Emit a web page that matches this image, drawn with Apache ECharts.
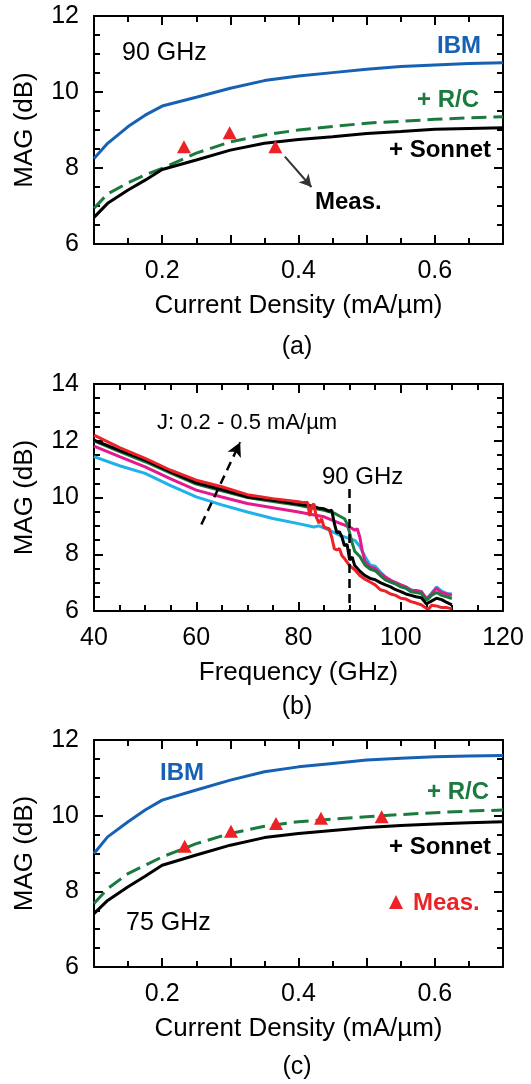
<!DOCTYPE html>
<html><head><meta charset="utf-8">
<script src="https://cdn.jsdelivr.net/npm/echarts@6/dist/echarts.min.js"></script>
<style>html,body{margin:0;padding:0;background:#fff}.p{width:531px;display:block}#pa{height:361px}#pb{height:361px}#pc{height:362px}#err{position:absolute;left:0;top:0;font:11px monospace;color:#c00;white-space:pre-wrap;width:531px}</style>
</head><body><div class="p" id="pa"></div><div class="p" id="pb"></div><div class="p" id="pc"></div><div id="err"></div>
<script>
window.onerror = function(m, s, l, c, e){ document.getElementById('err').textContent += 'ERR: ' + m + ' @' + l + ':' + c + '\n'; };
// ---- Panel (a): 90 GHz vs current density ----
const jA = [0.1,0.12,0.15,0.175,0.2,0.25,0.3,0.35,0.4,0.45,0.5,0.55,0.6,0.65,0.7];
const ibmA    = [8.25,8.65,9.09,9.39,9.63,9.86,10.10,10.30,10.42,10.51,10.60,10.67,10.71,10.75,10.77];
const rcA     = [6.94,7.32,7.61,7.82,7.99,8.39,8.69,8.87,9.00,9.09,9.18,9.23,9.28,9.32,9.35];
const sonnetA = [6.70,7.07,7.42,7.68,7.96,8.21,8.47,8.65,8.75,8.82,8.91,8.96,9.02,9.04,9.06];
const measJA = [0.232,0.299,0.366];
const measA  = [8.56,8.93,8.56];

// ---- Panel (b): MAG vs frequency, J = 0.2 - 0.5 mA/um ----
const fCyan = [40,45,50,55,60,65,70,75,80,83,84,86,88,90,91,92,93,94,95,96,97,98,99,100,101,102,103,104,105,106,107,108,109,110];
const mCyan = [11.44,11.12,10.85,10.42,10.02,9.74,9.49,9.26,9.08,8.96,9.0,8.85,8.67,8.55,8.49,8.28,7.92,7.62,7.58,7.38,7.2,7.08,7.0,6.92,6.85,6.75,6.7,6.7,6.42,6.62,6.85,6.7,6.62,6.6];
const fMag = [40,45,50,55,60,65,70,75,80,85,88,90,91,91.5,92,92.5,93,94,95,96,97,98,99,100,101,102,103,104,105,105.5,106,107,108,109,110];
const mMag = [11.81,11.44,11.08,10.66,10.26,10.02,9.79,9.64,9.49,9.32,9.1,8.96,8.85,8.9,8.6,8.1,7.75,7.55,7.5,7.32,7.2,7.08,7.0,6.92,6.85,6.73,6.72,6.68,6.45,6.5,6.6,6.8,6.65,6.6,6.55];
const fGreen = [40,45,50,55,60,65,70,75,80,85,87,88,89,89.5,90,90.5,91,92,93,94,95,96,97,98,99,100,101,102,103,104,105,105.5,106,107,108,109,110];
const mGreen = [12.0,11.62,11.26,10.86,10.47,10.24,10.0,9.86,9.73,9.55,9.45,9.35,9.25,9.08,8.75,8.4,8.1,7.92,7.62,7.48,7.42,7.25,7.1,7.02,6.95,6.85,6.8,6.68,6.65,6.62,6.38,6.45,6.55,6.65,6.55,6.5,6.44];
const fBlack = [40,45,50,55,60,65,70,75,80,83,84,85,86,86.5,87,87.5,88,88.5,89,89.5,90,90.5,91,92,93,94,95,96,97,98,99,100,101,102,103,104,105,105.5,106,107,108,109,110];
const mBlack = [12.02,11.66,11.32,10.9,10.52,10.28,10.02,9.9,9.76,9.69,9.62,9.6,9.52,9.55,9.1,8.75,8.8,8.6,8.3,8.35,7.8,7.9,7.6,7.4,7.25,7.15,7.1,7.0,6.92,6.85,6.75,6.68,6.6,6.55,6.5,6.47,6.25,6.3,6.35,6.45,6.4,6.3,6.22];
const fRed = [40,45,50,55,60,65,70,75,80,81,81.8,82.2,82.6,83,83.5,84,84.5,85,86,86.5,87,87.5,88,88.5,89,90,91,92,93,94,95,96,97,98,99,100,101,102,103,104,105,105.5,106,107,108,109,110];
const mRed = [12.2,11.76,11.38,10.96,10.61,10.38,10.1,9.96,9.85,9.82,9.82,9.35,9.7,9.78,9.3,9.1,9.25,8.95,8.9,8.6,8.2,8.15,8.2,7.95,7.85,7.6,7.45,7.25,7.12,7.02,6.92,6.75,6.7,6.6,6.55,6.45,6.42,6.33,6.28,6.22,6.1,6.08,6.2,6.18,6.12,6.12,6.08];

// ---- Panel (c): 75 GHz vs current density ----
const jC = [0.1,0.12,0.15,0.175,0.2,0.25,0.3,0.35,0.4,0.45,0.5,0.55,0.6,0.65,0.7];
const ibmC    = [9.0,9.44,9.84,10.15,10.41,10.68,10.94,11.16,11.29,11.38,11.47,11.52,11.56,11.58,11.59];
const rcC     = [7.68,8.07,8.47,8.69,8.91,9.26,9.53,9.72,9.84,9.91,9.97,10.03,10.08,10.12,10.15];
const sonnetC = [7.41,7.76,8.12,8.40,8.69,8.96,9.22,9.42,9.53,9.61,9.69,9.74,9.78,9.81,9.84];
const measJC = [0.233,0.301,0.367,0.433,0.522];
const measC  = [9.19,9.59,9.79,9.93,9.97];

// tick labels
const jTickLabels = ['0.2','0.4','0.6'];

const FONT = '"Liberation Sans", Arial, Helvetica, sans-serif';
const BLUE = '#1761b5', GREEN = '#1b7a3e', RED = '#ec2227';
const zip = (a,b) => a.map((v,i)=>[v,b[i]]);

function axisBase(min, max, interval, split){
  return {type:'value', min, max, interval,
    axisLine:{show:true, onZero:false, lineStyle:{color:'#000', width:2}},
    axisTick:{show:true, inside:true, length:9, lineStyle:{color:'#000', width:2}},
    minorTick:{show:true, splitNumber:split, length:6, lineStyle:{color:'#000', width:2}},
    splitLine:{show:false}};
}
function xAxes(min, max, interval, split, name, fmt){
  const b = axisBase(min, max, interval, split);
  b.position = 'bottom'; b.name = name; b.nameLocation = 'middle'; b.nameGap = 49;
  b.nameTextStyle = {fontSize:26, color:'#000'};
  b.axisLabel = {show:true, margin:15, fontSize:25, color:'#000', formatter:fmt};
  const t = axisBase(min, max, interval, split);
  t.position = 'top'; t.axisLabel = {show:false};
  return [b, t];
}
function yAxes(min, max){
  const l = axisBase(min, max, 2, 4);
  l.position = 'left'; l.name = 'MAG (dB)'; l.nameLocation = 'middle'; l.nameGap = 56;
  l.nameTextStyle = {fontSize:26, color:'#000'};
  l.axisLabel = {show:true, margin:15, fontSize:25, color:'#000'};
  const r = axisBase(min, max, 2, 4);
  r.position = 'right'; r.axisLabel = {show:false};
  return [l, r];
}
const jFmt = v => { const s = (Math.round(v*10)/10).toFixed(1); return jTickLabels.includes(s) ? s : ''; };

function line(data, color, width, dash){
  return {type:'line', data, showSymbol:false,
    lineStyle:{color, width, type: dash || 'solid'}};
}
function tri(data){
  return {type:'scatter', data, symbol:'triangle', symbolSize:[14,13],
    itemStyle:{color:RED, opacity:1}, z:5};
}
function txt(x, y, text, opts){
  return {type:'text', x, y, style:Object.assign({text, fontSize:25, fill:'#000',
    textAlign:'left', textVerticalAlign:'middle'}, opts||{}), z:10};
}

const optA = {
  animation:false, textStyle:{fontFamily:FONT},
  grid:{left:94, right:28, top:16, height:228},
  xAxis: xAxes(0.1, 0.7, 0.1, 2, 'Current Density (mA/µm)', jFmt),
  yAxis: yAxes(6, 12),
  series:[
    line(zip(jA, ibmA), BLUE, 3),
    line(zip(jA, rcA), GREEN, 3, [15,7]),
    Object.assign(line(zip(jA, sonnetA), '#000', 3), {
      markLine:{silent:true, symbol:['none','arrow'], symbolSize:[10,12], label:{show:false},
        lineStyle:{color:'#333', width:2, type:'solid'},
        data:[[{coord:[0.38,8.3]},{coord:[0.419,7.5]}]]}
    }),
    tri(zip(measJA, measA))
  ],
  graphic:[
    txt(122, 53, '90 GHz'),
    txt(481, 46, 'IBM', {fontWeight:'bold', fill:BLUE, textAlign:'right', fontSize:24}),
    txt(479, 100, '+ R/C', {fontWeight:'bold', fill:GREEN, textAlign:'right', fontSize:24}),
    txt(491, 150, '+ Sonnet', {fontWeight:'bold', textAlign:'right', fontSize:24}),
    txt(315, 202, 'Meas.', {fontWeight:'bold', fontSize:24}),
    txt(297, 347, '(a)', {textAlign:'center'})
  ]
};
const optB = {
  animation:false, textStyle:{fontFamily:FONT},
  grid:{left:94, right:28, top:23, height:227},
  xAxis: xAxes(40, 120, 20, 4, 'Frequency (GHz)', null),
  yAxis: yAxes(6, 14),
  series:[
    line(zip(fCyan, mCyan), '#1fb1ea', 3),
    line(zip(fMag, mMag), '#e6198c', 3),
    line(zip(fGreen, mGreen), GREEN, 3),
    line(zip(fBlack, mBlack), '#000', 3),
    Object.assign(line(zip(fRed, mRed), RED, 3), {
      markLine:{silent:true, label:{show:false},
        data:[
          [{coord:[90,10.3], symbol:'none', lineStyle:{color:'#000', width:2.5, type:[9,6]}},{coord:[90,6], symbol:'none'}],
          [{coord:[61,9.05], symbol:'none', lineStyle:{color:'#000', width:2.5, type:[9,6]}},{coord:[68.6,11.95], symbol:'arrow', symbolSize:[11,14]}]
        ]}
    })
  ],
  graphic:[
    txt(157, 62, 'J: 0.2 - 0.5 mA/µm', {fontSize:22}),
    txt(322, 116, '90 GHz', {fontSize:24}),
    txt(297, 346, '(b)', {textAlign:'center'})
  ]
};
if (optB.xAxis[0].axisLabel.formatter === null) delete optB.xAxis[0].axisLabel.formatter;
const optC = {
  animation:false, textStyle:{fontFamily:FONT},
  grid:{left:94, right:28, top:18, height:227},
  xAxis: xAxes(0.1, 0.7, 0.1, 2, 'Current Density (mA/µm)', jFmt),
  yAxis: yAxes(6, 12),
  series:[
    line(zip(jC, ibmC), BLUE, 3),
    line(zip(jC, rcC), GREEN, 3, [15,7]),
    line(zip(jC, sonnetC), '#000', 3),
    tri(zip(measJC, measC))
  ],
  graphic:[
    txt(160, 51, 'IBM', {fontWeight:'bold', fill:BLUE, fontSize:24}),
    txt(489, 70, '+ R/C', {fontWeight:'bold', fill:GREEN, textAlign:'right', fontSize:24}),
    txt(491, 125, '+ Sonnet', {fontWeight:'bold', textAlign:'right', fontSize:24}),
    {type:'polygon', shape:{points:[[396,173],[403,187],[389,187]]}, style:{fill:RED}, z:10},
    txt(413, 181, 'Meas.', {fontWeight:'bold', fill:RED, fontSize:24}),
    txt(126, 201, '75 GHz'),
    txt(297, 345, '(c)', {textAlign:'center'})
  ]
};
[['pa',optA],['pb',optB],['pc',optC]].forEach(([id,opt]) => {
  try { echarts.init(document.getElementById(id)).setOption(opt); }
  catch(e){ document.getElementById('err').textContent += id + ': ' + e.message + '\n'; }
});
</script>
</body></html>
